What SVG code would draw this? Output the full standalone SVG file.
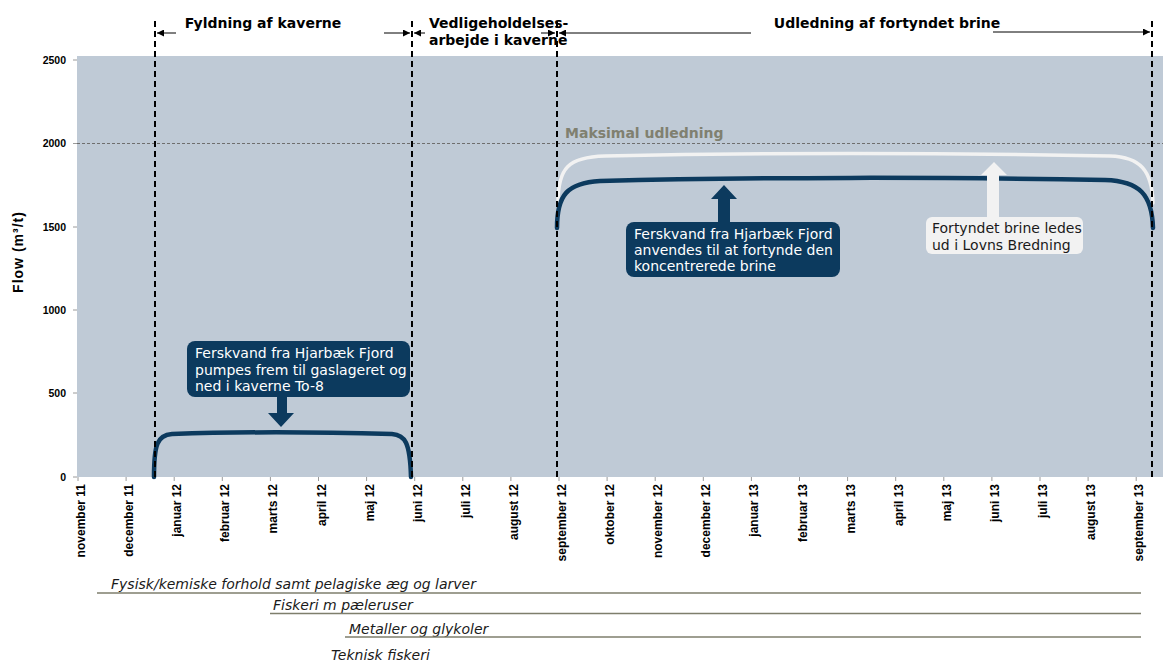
<svg xmlns="http://www.w3.org/2000/svg" width="1163" height="663" viewBox="0 0 1163 663">
<defs>
<style>
.hdr{font-family:"DejaVu Sans",Verdana,sans-serif;font-weight:bold;font-size:14px;fill:#000}
.ax{font-family:"Liberation Sans",Arial,sans-serif;font-weight:bold;font-size:10.5px;fill:#000}
.xl{font-family:"Liberation Sans",Arial,sans-serif;font-weight:bold;font-size:12px;fill:#000}
.box{font-family:"DejaVu Sans",Verdana,sans-serif;font-size:14px}
.bot{font-family:"DejaVu Sans",Verdana,sans-serif;font-style:italic;font-size:14px;fill:#1a1a1a}
.vdash{stroke:#000;stroke-width:2;stroke-dasharray:6,4;fill:none}
.harr{stroke:#000;stroke-width:1;fill:none}
.tick{stroke:#9a9a9a;stroke-width:1}
.bline{stroke:#7e7e6c;stroke-width:1.5}
</style>
<marker id="ah" viewBox="0 0 10 10" refX="10" refY="5" markerWidth="7" markerHeight="7" markerUnits="userSpaceOnUse" orient="auto">
<path d="M0,0 L10,5 L0,10 Z" fill="#000"/>
</marker>
</defs>
<rect width="1163" height="663" fill="#fff"/>

<g id="plot">
<rect x="77" y="56" width="1086" height="421" fill="#bfcad6"/>
<line x1="77" y1="143.5" x2="1163" y2="143.5" stroke="#6e6e6e" stroke-width="1" stroke-dasharray="3,2"/>
<g class="tick">
<line x1="73" y1="60" x2="77" y2="60"/><line x1="73" y1="143.5" x2="77" y2="143.5"/><line x1="73" y1="227" x2="77" y2="227"/><line x1="73" y1="310" x2="77" y2="310"/><line x1="73" y1="393" x2="77" y2="393"/><line x1="73" y1="477" x2="77" y2="477"/>
<line x1="78" y1="477" x2="78" y2="481"/><line x1="126.1" y1="477" x2="126.1" y2="481"/><line x1="174.2" y1="477" x2="174.2" y2="481"/><line x1="222.3" y1="477" x2="222.3" y2="481"/><line x1="270.4" y1="477" x2="270.4" y2="481"/><line x1="318.5" y1="477" x2="318.5" y2="481"/><line x1="366.6" y1="477" x2="366.6" y2="481"/><line x1="414.7" y1="477" x2="414.7" y2="481"/><line x1="462.8" y1="477" x2="462.8" y2="481"/><line x1="510.9" y1="477" x2="510.9" y2="481"/><line x1="559" y1="477" x2="559" y2="481"/><line x1="607.1" y1="477" x2="607.1" y2="481"/><line x1="655.2" y1="477" x2="655.2" y2="481"/><line x1="703.3" y1="477" x2="703.3" y2="481"/><line x1="751.4" y1="477" x2="751.4" y2="481"/><line x1="799.5" y1="477" x2="799.5" y2="481"/><line x1="847.6" y1="477" x2="847.6" y2="481"/><line x1="895.7" y1="477" x2="895.7" y2="481"/><line x1="943.8" y1="477" x2="943.8" y2="481"/><line x1="991.9" y1="477" x2="991.9" y2="481"/><line x1="1040" y1="477" x2="1040" y2="481"/><line x1="1088.1" y1="477" x2="1088.1" y2="481"/><line x1="1136.2" y1="477" x2="1136.2" y2="481"/>
</g>
<g class="ax" text-anchor="end">
<text x="66" y="64">2500</text><text x="66" y="147">2000</text><text x="66" y="231">1500</text><text x="66" y="314">1000</text><text x="66" y="397">500</text><text x="66" y="481">0</text>
</g>
<text transform="translate(23,252) rotate(-90)" text-anchor="middle" font-family="Liberation Sans, Arial, sans-serif" font-weight="bold" font-size="14" letter-spacing="1">Flow (m³/t)</text>
<g class="xl" text-anchor="end">
<text transform="translate(85,484) rotate(-90)">november 11</text>
<text transform="translate(133.1,484) rotate(-90)">december 11</text>
<text transform="translate(181.2,484) rotate(-90)">januar 12</text>
<text transform="translate(229.3,484) rotate(-90)">februar 12</text>
<text transform="translate(277.4,484) rotate(-90)">marts 12</text>
<text transform="translate(325.5,484) rotate(-90)">april 12</text>
<text transform="translate(373.6,484) rotate(-90)">maj 12</text>
<text transform="translate(421.7,484) rotate(-90)">juni 12</text>
<text transform="translate(469.8,484) rotate(-90)">juli 12</text>
<text transform="translate(517.9,484) rotate(-90)">august 12</text>
<text transform="translate(566,484) rotate(-90)">september 12</text>
<text transform="translate(614.1,484) rotate(-90)">oktober 12</text>
<text transform="translate(662.2,484) rotate(-90)">november 12</text>
<text transform="translate(710.3,484) rotate(-90)">december 12</text>
<text transform="translate(758.4,484) rotate(-90)">januar 13</text>
<text transform="translate(806.5,484) rotate(-90)">februar 13</text>
<text transform="translate(854.6,484) rotate(-90)">marts 13</text>
<text transform="translate(902.7,484) rotate(-90)">april 13</text>
<text transform="translate(950.8,484) rotate(-90)">maj 13</text>
<text transform="translate(998.9,484) rotate(-90)">juni 13</text>
<text transform="translate(1047,484) rotate(-90)">juli 13</text>
<text transform="translate(1095.1,484) rotate(-90)">august 13</text>
<text transform="translate(1143.2,484) rotate(-90)">september 13</text>
</g>
<text x="565" y="138" class="hdr" style="fill:#808070">Maksimal udledning</text>
</g>

<g id="curves" fill="none" stroke-linecap="round">
<path d="M558 203 C558 168,568 157,605 156 C750 153,950 153,1110 156 C1140 157,1152 170,1153 203" stroke="#f2f2f2" stroke-width="3.5"/>
<path d="M557 228 C557 195,567 183,600 181 C750 177,950 177,1105 180 C1140 181,1152 195,1153 228" stroke="#0c3a5e" stroke-width="4.5"/>
<path d="M154 477 C154 445,157 435,172 434 C230 432,320 432,392 434 C405 435,410 442,411 477" stroke="#0c3a5e" stroke-width="4.5"/>
</g>

<g id="phase-lines">
<line class="vdash" x1="155" y1="21" x2="155" y2="477"/>
<line class="vdash" x1="412" y1="21" x2="412" y2="477"/>
<line class="vdash" x1="557" y1="21" x2="557" y2="481"/>
<line class="vdash" x1="1152" y1="21" x2="1152" y2="477"/>
</g>

<g id="phase-fyldning"><text class="hdr" x="263" y="28" text-anchor="middle">Fyldning af kaverne</text></g>
<g id="phase-vedligehold"><text class="hdr" x="429" y="28">Vedligeholdelses-</text><text class="hdr" x="429" y="45">arbejde i kaverne</text></g>
<g id="phase-udledning"><text class="hdr" x="887" y="28" text-anchor="middle">Udledning af fortyndet brine</text></g>

<g id="connectors">
<line class="harr" x1="176" y1="33" x2="157" y2="33" marker-end="url(#ah)"/>
<line class="harr" x1="384" y1="33" x2="410" y2="33" marker-end="url(#ah)"/>
<line class="harr" x1="425" y1="33" x2="414" y2="33" marker-end="url(#ah)"/>
<line class="harr" x1="541" y1="33" x2="555" y2="33" marker-end="url(#ah)"/>
<line class="harr" x1="751" y1="33" x2="559" y2="33" marker-end="url(#ah)"/>
<line class="harr" x1="993" y1="32" x2="1150" y2="32" marker-end="url(#ah)"/>
<polygon points="277,396 287,396 287,413 294,413 281,427 268,413 277,413" fill="#0c3a5e"/>
<polygon points="718,222 730,222 730,199 737,199 724,185 711,199 718,199" fill="#0c3a5e"/>
<polygon points="987,217 999,217 999,175 1007,175 994,162 981,175 987,175" fill="#f2f2f2"/>
</g>

<g id="box-fyldning">
<rect x="187" y="341" width="223" height="56" rx="8" fill="#0c3a5e"/>
<text class="box" fill="#fff"><tspan x="195" y="358">Ferskvand fra Hjarbæk Fjord</tspan><tspan x="195" y="374.5">pumpes frem til gaslageret og</tspan><tspan x="195" y="391">ned i kaverne To-8</tspan></text>
</g>
<g id="box-fortynd">
<rect x="626" y="222" width="214" height="55" rx="8" fill="#0c3a5e"/>
<text class="box" fill="#fff"><tspan x="634" y="239">Ferskvand fra Hjarbæk Fjord</tspan><tspan x="634" y="255">anvendes til at fortynde den</tspan><tspan x="634" y="271">koncentrerede brine</tspan></text>
</g>
<g id="box-brine">
<rect x="926" y="217" width="157" height="37" rx="6" fill="#f2f2f2"/>
<text class="box" fill="#1a1a1a"><tspan x="932" y="233">Fortyndet brine ledes</tspan><tspan x="932" y="250">ud i Lovns Bredning</tspan></text>
</g>

<g id="monitoring">
<text class="bot" x="111" y="589">Fysisk/kemiske forhold samt pelagiske æg og larver</text>
<line class="bline" x1="97" y1="593" x2="1141" y2="593"/>
<text class="bot" x="273" y="610">Fiskeri m pæleruser</text>
<line class="bline" x1="270" y1="613.5" x2="1141" y2="613.5"/>
<text class="bot" x="349" y="634">Metaller og glykoler</text>
<line class="bline" x1="345" y1="637" x2="1141" y2="637"/>
<text class="bot" x="331" y="660">Teknisk fiskeri</text>
</g>
</svg>
